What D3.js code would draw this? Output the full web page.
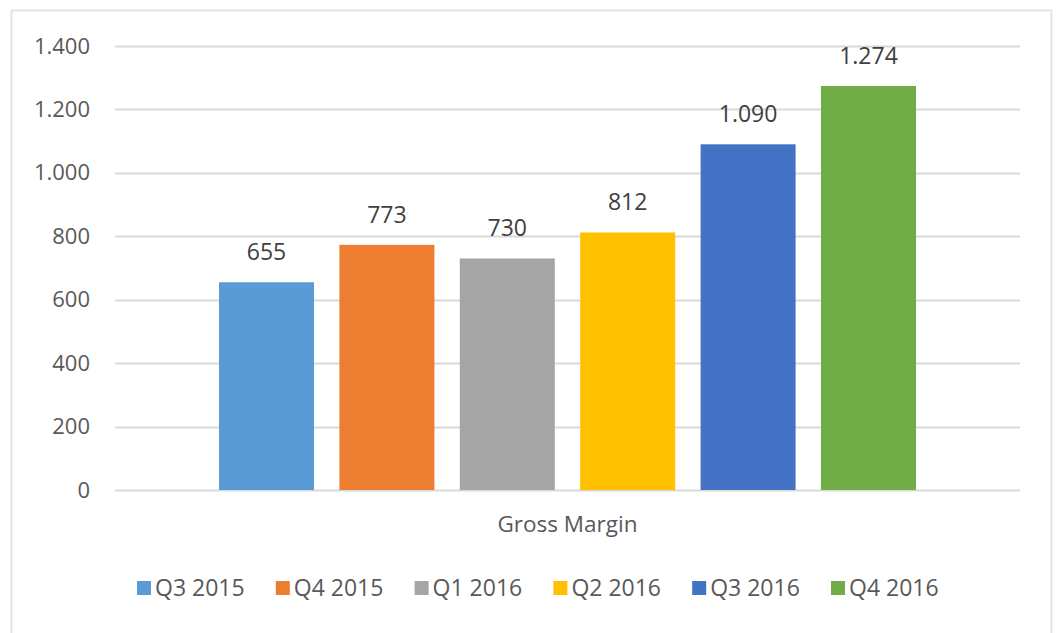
<!DOCTYPE html>
<html>
<head>
<meta charset="utf-8">
<script src="https://cdn.jsdelivr.net/npm/d3@7"></script>
<style>
  body { margin: 0; background: #fff; }
</style>
</head>
<body>
<div class="chart"></div>
<script>
const categories = ['Gross Margin'];
const seriesNames = ['Q3 2015', 'Q4 2015', 'Q1 2016', 'Q2 2016', 'Q3 2016', 'Q4 2016'];
const seriesValues = [655, 773, 730, 812, 1090, 1274];
const seriesColors = ['#5b9bd5', '#ed7d31', '#a5a5a5', '#ffc000', '#4472c4', '#70ad47'];
const yTicks = [0, 200, 400, 600, 800, 1000, 1200, 1400];

const chartWidth = 1056;
const chartHeight = 633;
const margin = { left: 115, right: 36, top: 46, bottom: 143 };
const width = chartWidth - margin.left - margin.right;
const height = chartHeight - margin.top - margin.bottom;

const font = "'Open Sans', sans-serif";
const textColor = '#595959';

const fmt = v => d3.format(',')(v).replace(/,/g, '.');

const root = d3.select('.chart')
  .append('svg')
  .attr('width', chartWidth)
  .attr('height', chartHeight);

// chart area border
root.append('rect')
  .attr('x', 11.5)
  .attr('y', 10.5)
  .attr('width', 1040)
  .attr('height', 640)
  .attr('fill', 'none')
  .attr('stroke', '#e3e3e3')
  .attr('stroke-width', 2);

const svg = root.append('g')
  .attr('transform', `translate(${margin.left}, ${margin.top})`);

const yScale = d3.scaleLinear()
  .domain([0, 1400])
  .range([height, 0]);

const xScale = d3.scaleBand()
  .domain(categories)
  .range([0, width]);

const seriesScale = d3.scaleBand()
  .domain(seriesNames)
  .range([xScale('Gross Margin') + 104, xScale('Gross Margin') + xScale.bandwidth() - 104])
  .paddingInner(0.211)
  .paddingOuter(0);

// gridlines
svg.append('g')
  .selectAll('line')
  .data(yTicks)
  .enter()
  .append('line')
  .attr('x1', 0)
  .attr('x2', width)
  .attr('y1', d => Math.round(yScale(d)) + 0.5)
  .attr('y2', d => Math.round(yScale(d)) + 0.5)
  .attr('stroke', '#d9d9d9')
  .attr('stroke-width', 2);

// y axis labels
const yAxis = d3.axisLeft(yScale)
  .tickValues(yTicks)
  .tickSize(0)
  .tickPadding(25)
  .tickFormat(fmt);
const yAxisG = svg.append('g').call(yAxis);
yAxisG.select('.domain').remove();
yAxisG.selectAll('text')
  .attr('font-family', font)
  .attr('font-size', '22px')
  .attr('fill', textColor);

const data = seriesNames.map((name, i) => ({ name, value: seriesValues[i], color: seriesColors[i] }));

svg.append('g')
  .selectAll('rect')
  .data(data)
  .enter()
  .append('rect')
  .attr('x', d => seriesScale(d.name))
  .attr('y', d => yScale(d.value))
  .attr('width', seriesScale.bandwidth())
  .attr('height', d => height - yScale(d.value))
  .attr('fill', d => d.color);

svg.append('g')
  .selectAll('text')
  .data(data)
  .enter()
  .append('text')
  .attr('x', d => seriesScale(d.name) + seriesScale.bandwidth() / 2)
  .attr('y', d => yScale(d.value) - 22)
  .attr('text-anchor', 'middle')
  .attr('font-family', font)
  .attr('font-size', '23px')
  .attr('fill', '#404040')
  .text(d => fmt(d.value));

// category label
svg.append('text')
  .attr('x', xScale('Gross Margin') + xScale.bandwidth() / 2)
  .attr('y', height + 42)
  .attr('text-anchor', 'middle')
  .attr('font-family', font)
  .attr('font-size', '22.5px')
  .attr('fill', textColor)
  .text('Gross Margin');

// legend
const legendX = d3.scalePoint()
  .domain(seriesNames)
  .range([137, 831]);

const legend = root.append('g')
  .selectAll('g')
  .data(data)
  .enter()
  .append('g')
  .attr('transform', d => `translate(${legendX(d.name)}, 588)`);

legend.append('rect')
  .attr('x', 0)
  .attr('y', -7)
  .attr('width', 14)
  .attr('height', 14)
  .attr('fill', d => d.color);

legend.append('text')
  .attr('x', 18)
  .attr('y', 0)
  .attr('dy', '0.35em')
  .attr('font-family', font)
  .attr('font-size', '23px')
  .attr('fill', textColor)
  .text(d => d.name);
</script>
</body>
</html>
